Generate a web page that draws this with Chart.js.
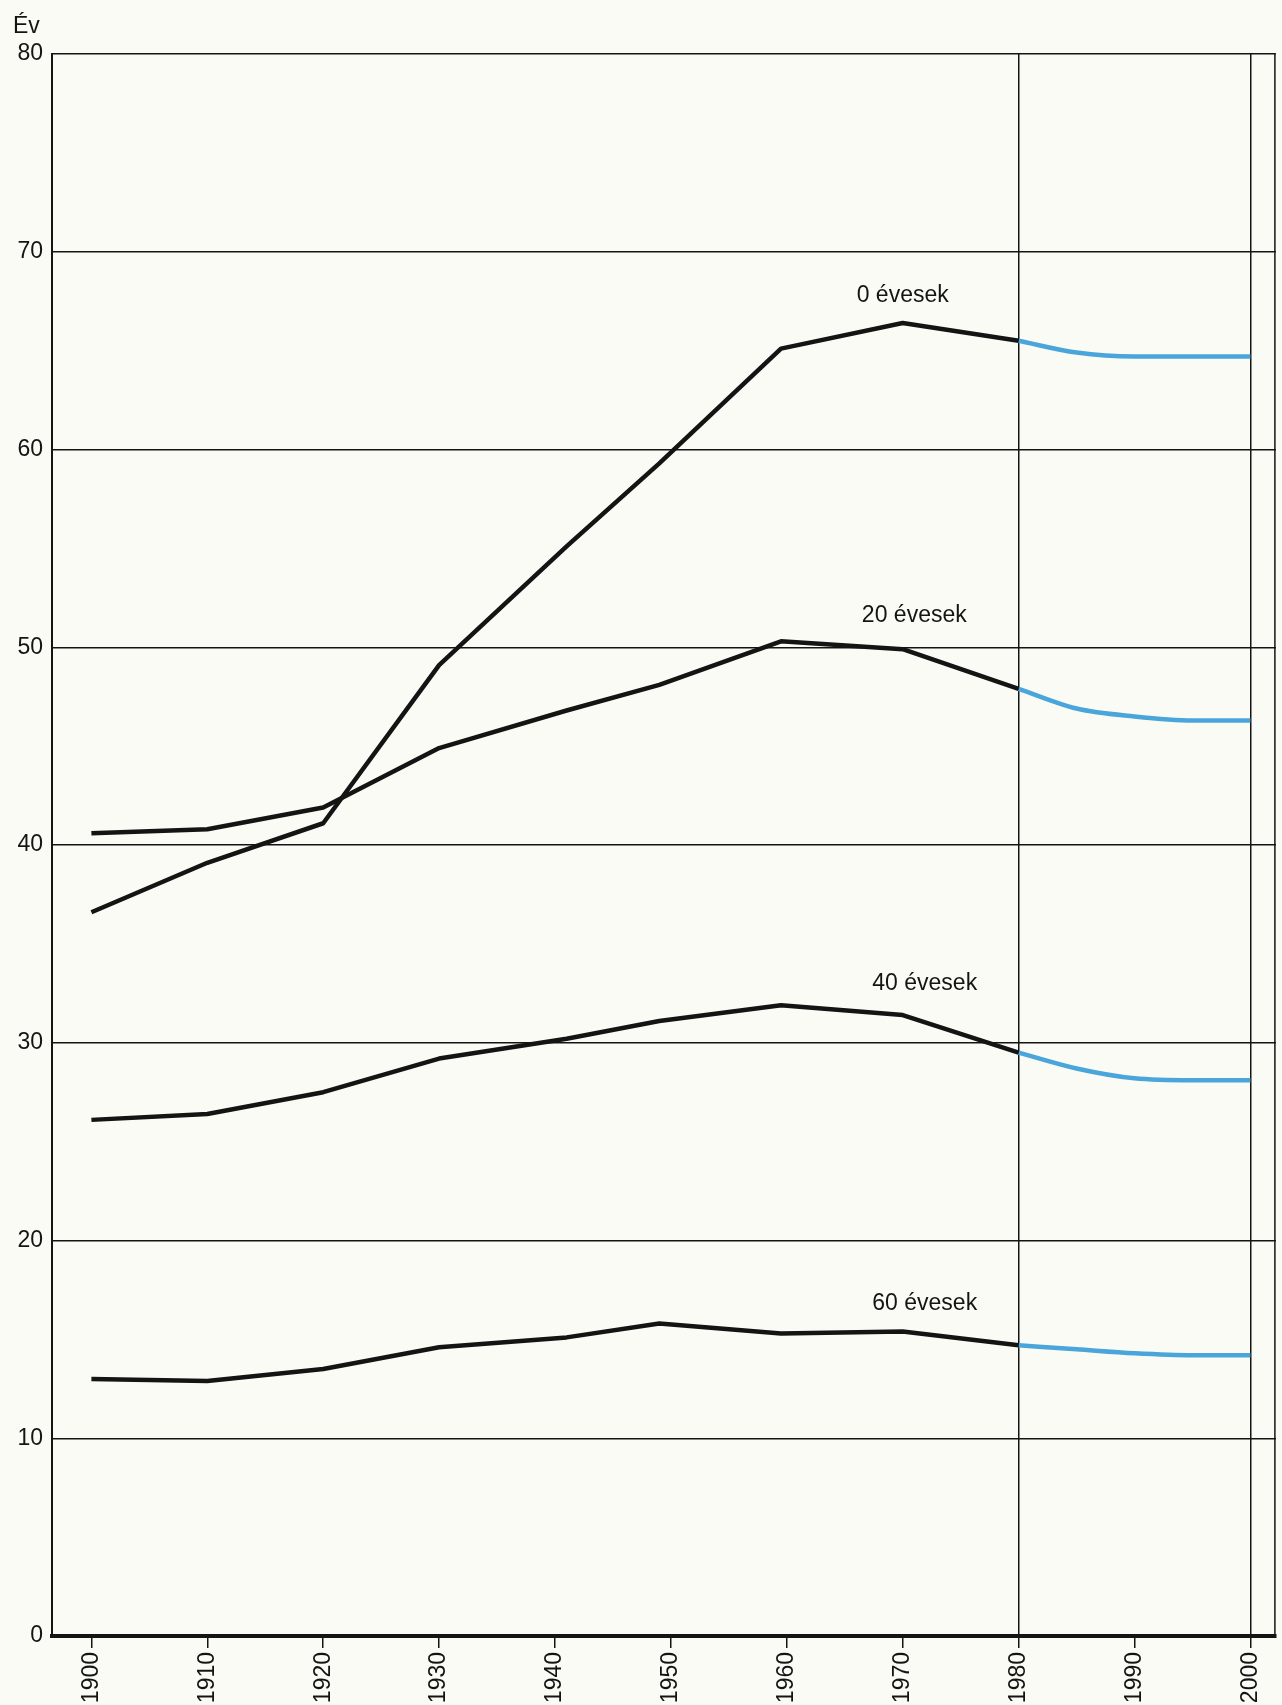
<!DOCTYPE html>
<html>
<head>
<meta charset="utf-8">
<script src="https://cdn.jsdelivr.net/npm/chart.js@4/dist/chart.umd.min.js"></script>
<style>
  html, body { margin: 0; padding: 0; background: #fbfbf6; }
  canvas { display: block; }
</style>
</head>
<body>
<canvas id="grafikon" width="1282" height="1705"></canvas>
<script>
// adatok (várható élettartam, év)
const evek = [1900, 1910, 1920, 1930, 1941, 1949, 1959.5, 1970, 1980];
const elorejelzesEvek = [1980, 1985, 1990, 1995, 2000];

const eves0 = [36.6, 39.1, 41.1, 49.1, 55.1, 59.3, 65.1, 66.4, 65.5];
const eves0Proj = [65.5, 64.9, 64.7, 64.7, 64.7];
const eves20 = [40.6, 40.8, 41.9, 44.9, 46.8, 48.1, 50.3, 49.9, 47.9];
const eves20Proj = [47.9, 46.9, 46.5, 46.3, 46.3];
const eves40 = [26.1, 26.4, 27.5, 29.2, 30.2, 31.1, 31.9, 31.4, 29.5];
const eves40Proj = [29.5, 28.7, 28.2, 28.1, 28.1];
const eves60 = [13.0, 12.9, 13.5, 14.6, 15.1, 15.8, 15.3, 15.4, 14.7];
const eves60Proj = [14.7, 14.5, 14.3, 14.2, 14.2];

const xTickek = [1900, 1910, 1920, 1930, 1940, 1950, 1960, 1970, 1980, 1990, 2000];
const xRacsok = [1980, 2000]; // csak itt van függőleges vonal
const yTickek = [0, 10, 20, 30, 40, 50, 60, 70, 80];

const feliratok = ["0 évesek", "20 évesek", "40 évesek", "60 évesek"];
const feliratEv = [1970.0, 1971.0, 1971.9, 1971.9];
const feliratErtek = [67.8, 51.6, 33.0, 16.8];

const FONT = "'Liberation Sans', Arial, sans-serif";
const FEKETE = "#141414";
const KEK = "#4aa5da";

const pontok = (xs, ys) => xs.map((x, i) => ({ x, y: ys[i] }));

function vonal(xs, ys, szin, gorbe) {
  return {
    data: pontok(xs, ys),
    borderColor: szin,
    borderWidth: 4.5,
    pointRadius: 0,
    tension: gorbe ? 0.35 : 0,
    cubicInterpolationMode: gorbe ? "monotone" : "default",
    borderJoinStyle: "round",
    borderCapStyle: "butt"
  };
}

const hatter = {
  id: "hatter",
  beforeDraw(chart) {
    const c = chart.ctx;
    c.save();
    c.fillStyle = "#fbfbf6";
    c.fillRect(0, 0, chart.width, chart.height);
    c.restore();
  }
};

const szovegek = {
  id: "szovegek",
  afterDraw(chart) {
    const { ctx: c, chartArea, scales } = chart;
    c.save();
    // jobb oldali keret
    c.strokeStyle = FEKETE;
    c.lineWidth = 1.5;
    c.beginPath();
    c.moveTo(chartArea.right - 1, chartArea.top);
    c.lineTo(chartArea.right - 1, chartArea.bottom);
    c.stroke();

    c.fillStyle = FEKETE;
    c.font = "23px " + FONT;
    c.textAlign = "left";
    c.textBaseline = "alphabetic";
    c.fillText("Év", 13, chartArea.top - 21);

    c.font = "23px " + FONT;
    c.textAlign = "center";
    c.textBaseline = "middle";
    feliratok.forEach((t, i) => {
      c.fillText(t, scales.x.getPixelForValue(feliratEv[i]), scales.y.getPixelForValue(feliratErtek[i]));
    });
    c.restore();
  }
};

new Chart(document.getElementById("grafikon"), {
  type: "line",
  data: {
    datasets: [
      vonal(evek, eves0, FEKETE, false),
      vonal(elorejelzesEvek, eves0Proj, KEK, true),
      vonal(evek, eves20, FEKETE, false),
      vonal(elorejelzesEvek, eves20Proj, KEK, true),
      vonal(evek, eves40, FEKETE, false),
      vonal(elorejelzesEvek, eves40Proj, KEK, true),
      vonal(evek, eves60, FEKETE, false),
      vonal(elorejelzesEvek, eves60Proj, KEK, true)
    ]
  },
  options: {
    responsive: false,
    animation: false,
    devicePixelRatio: 1,
    layout: { padding: { top: 54, right: 0, left: 0, bottom: 0 } },
    plugins: { legend: { display: false }, tooltip: { enabled: false } },
    scales: {
      x: {
        type: "linear",
        min: 1896.6,
        max: 2002.2,
        afterBuildTicks: s => { s.ticks = xTickek.map(v => ({ value: v })); },
        afterFit: s => { s.height = 69; },
        border: { display: true, color: FEKETE, width: 4 },
        grid: {
          color: c => (c.tick && xRacsok.includes(c.tick.value) ? FEKETE : "rgba(0,0,0,0)"),
          tickColor: FEKETE,
          lineWidth: 1.5,
          drawTicks: true,
          tickLength: 12
        },
        ticks: {
          autoSkip: false,
          minRotation: 90,
          maxRotation: 90,
          padding: 4,
          color: FEKETE,
          font: { family: FONT, size: 23 },
          callback: v => String(v)
        }
      },
      y: {
        min: 0,
        max: 80,
        afterBuildTicks: s => { s.ticks = yTickek.map(v => ({ value: v })); },
        afterFit: s => { s.width = 52; },
        border: { display: true, color: FEKETE, width: 2 },
        grid: { color: FEKETE, lineWidth: 1.5, drawTicks: false },
        ticks: {
          padding: 9,
          color: FEKETE,
          font: { family: FONT, size: 23 }
        }
      }
    }
  },
  plugins: [hatter, szovegek]
});
</script>
</body>
</html>
